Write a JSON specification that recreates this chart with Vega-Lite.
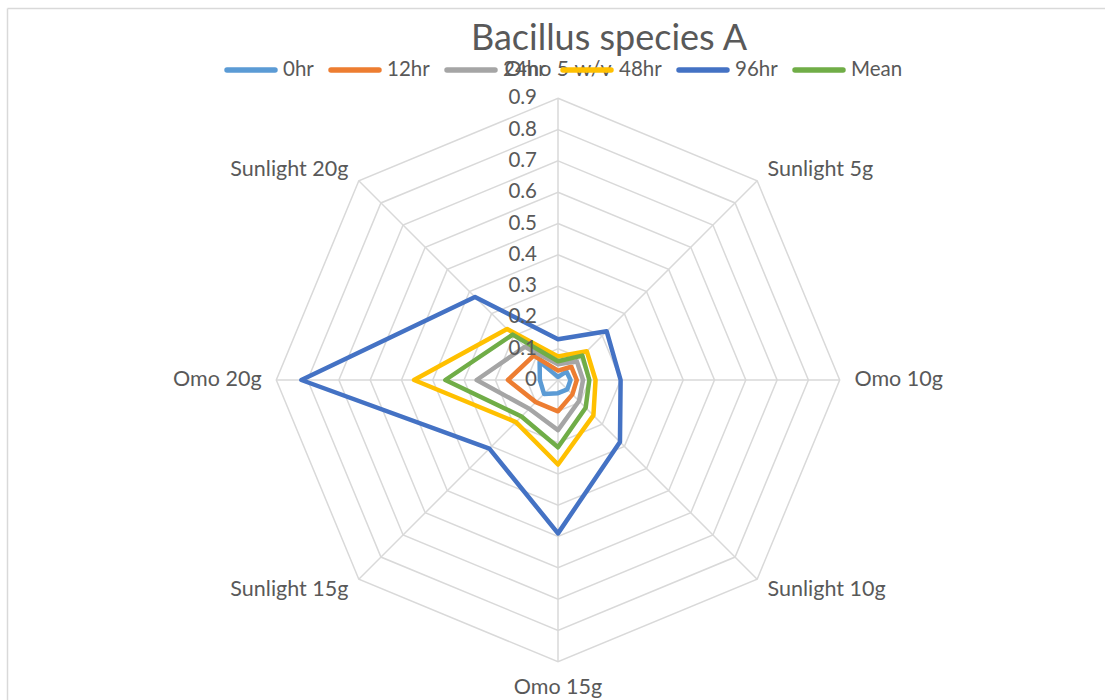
{
  "$schema": "https://vega.github.io/schema/vega-lite/v6.json",
  "width": 1098,
  "height": 692,
  "autosize": {"type": "none"},
  "padding": {"left": 7, "top": 8, "right": 0, "bottom": 0},
  "background": "white",
  "config": {"view": {"stroke": null}, "font": "Lato"},
  "title": {
    "text": "Bacillus species  A",
    "font": "Lato",
    "fontSize": 36,
    "fontWeight": "normal",
    "color": "#595959",
    "anchor": "middle",
    "frame": "group",
    "orient": "top",
    "offset": 0,
    "baseline": "alphabetic",
    "dx": 53,
    "dy": 78
  },
  "datasets": {
    "vals": [
      {"s": "0hr", "k": 0, "v": 0.01}, {"s": "0hr", "k": 1, "v": 0.038}, {"s": "0hr", "k": 2, "v": 0.04}, {"s": "0hr", "k": 3, "v": 0.042},
      {"s": "0hr", "k": 4, "v": 0.042}, {"s": "0hr", "k": 5, "v": 0.063}, {"s": "0hr", "k": 6, "v": 0.058}, {"s": "0hr", "k": 7, "v": 0.083},
      {"s": "12hr", "k": 0, "v": 0.03}, {"s": "12hr", "k": 1, "v": 0.06}, {"s": "12hr", "k": 2, "v": 0.06}, {"s": "12hr", "k": 3, "v": 0.065},
      {"s": "12hr", "k": 4, "v": 0.10}, {"s": "12hr", "k": 5, "v": 0.10}, {"s": "12hr", "k": 6, "v": 0.16}, {"s": "12hr", "k": 7, "v": 0.11},
      {"s": "24hr", "k": 0, "v": 0.05}, {"s": "24hr", "k": 1, "v": 0.085}, {"s": "24hr", "k": 2, "v": 0.08}, {"s": "24hr", "k": 3, "v": 0.095},
      {"s": "24hr", "k": 4, "v": 0.16}, {"s": "24hr", "k": 5, "v": 0.13}, {"s": "24hr", "k": 6, "v": 0.26}, {"s": "24hr", "k": 7, "v": 0.15},
      {"s": "48hr", "k": 0, "v": 0.075}, {"s": "48hr", "k": 1, "v": 0.13}, {"s": "48hr", "k": 2, "v": 0.12}, {"s": "48hr", "k": 3, "v": 0.16},
      {"s": "48hr", "k": 4, "v": 0.27}, {"s": "48hr", "k": 5, "v": 0.19}, {"s": "48hr", "k": 6, "v": 0.46}, {"s": "48hr", "k": 7, "v": 0.23},
      {"s": "96hr", "k": 0, "v": 0.13}, {"s": "96hr", "k": 1, "v": 0.22}, {"s": "96hr", "k": 2, "v": 0.20}, {"s": "96hr", "k": 3, "v": 0.28},
      {"s": "96hr", "k": 4, "v": 0.49}, {"s": "96hr", "k": 5, "v": 0.31}, {"s": "96hr", "k": 6, "v": 0.82}, {"s": "96hr", "k": 7, "v": 0.375},
      {"s": "Mean", "k": 0, "v": 0.06}, {"s": "Mean", "k": 1, "v": 0.11}, {"s": "Mean", "k": 2, "v": 0.10}, {"s": "Mean", "k": 3, "v": 0.125},
      {"s": "Mean", "k": 4, "v": 0.215}, {"s": "Mean", "k": 5, "v": 0.165}, {"s": "Mean", "k": 6, "v": 0.36}, {"s": "Mean", "k": 7, "v": 0.205}
    ],
    "axes": [
      {"k": 0, "name": "Omo 5 w/v"}, {"k": 1, "name": "Sunlight 5g"}, {"k": 2, "name": "Omo 10g"}, {"k": 3, "name": "Sunlight 10g"},
      {"k": 4, "name": "Omo 15g"}, {"k": 5, "name": "Sunlight 15g"}, {"k": 6, "name": "Omo 20g"}, {"k": 7, "name": "Sunlight 20g"}
    ],
    "rings": [
      {"k": 0, "lv": [0.1, 0.2, 0.3, 0.4, 0.5, 0.6, 0.7, 0.8, 0.9]},
      {"k": 1, "lv": [0.1, 0.2, 0.3, 0.4, 0.5, 0.6, 0.7, 0.8, 0.9]},
      {"k": 2, "lv": [0.1, 0.2, 0.3, 0.4, 0.5, 0.6, 0.7, 0.8, 0.9]},
      {"k": 3, "lv": [0.1, 0.2, 0.3, 0.4, 0.5, 0.6, 0.7, 0.8, 0.9]},
      {"k": 4, "lv": [0.1, 0.2, 0.3, 0.4, 0.5, 0.6, 0.7, 0.8, 0.9]},
      {"k": 5, "lv": [0.1, 0.2, 0.3, 0.4, 0.5, 0.6, 0.7, 0.8, 0.9]},
      {"k": 6, "lv": [0.1, 0.2, 0.3, 0.4, 0.5, 0.6, 0.7, 0.8, 0.9]},
      {"k": 7, "lv": [0.1, 0.2, 0.3, 0.4, 0.5, 0.6, 0.7, 0.8, 0.9]}
    ],
    "ticks": [
      {"lv": 0, "t": "0"}, {"lv": 0.1, "t": "0.1"}, {"lv": 0.2, "t": "0.2"}, {"lv": 0.3, "t": "0.3"}, {"lv": 0.4, "t": "0.4"},
      {"lv": 0.5, "t": "0.5"}, {"lv": 0.6, "t": "0.6"}, {"lv": 0.7, "t": "0.7"}, {"lv": 0.8, "t": "0.8"}, {"lv": 0.9, "t": "0.9"}
    ]
  },
  "encoding": {
    "x": {
      "field": "x", "type": "quantitative",
      "scale": {"domain": [-1.76038, 1.7476], "nice": false, "zero": false},
      "axis": {"orient": "top", "labels": false, "ticks": false, "grid": false, "title": null, "domainColor": "#D9D9D9", "domainWidth": 1.5}
    },
    "y": {
      "field": "y", "type": "quantitative",
      "scale": {"domain": [-1.02236, 1.1885], "nice": false, "zero": false},
      "axis": {"orient": "left", "labels": false, "ticks": false, "grid": false, "title": null, "domainColor": "#D9D9D9", "domainWidth": 1.5}
    }
  },
  "layer": [
    {
      "data": {"name": "rings"},
      "transform": [
        {"flatten": ["lv"]},
        {"calculate": "datum.lv * sin(datum.k * PI / 4)", "as": "x"},
        {"calculate": "datum.lv * cos(datum.k * PI / 4)", "as": "y"}
      ],
      "mark": {"type": "line", "interpolate": "linear-closed", "stroke": "#D9D9D9", "strokeWidth": 1.5},
      "encoding": {
        "detail": {"field": "lv", "type": "nominal"},
        "order": {"field": "k", "type": "quantitative"}
      }
    },
    {
      "data": {"name": "axes"},
      "transform": [
        {"calculate": "0", "as": "x"},
        {"calculate": "0", "as": "y"},
        {"calculate": "0.9 * sin(datum.k * PI / 4)", "as": "x2"},
        {"calculate": "0.9 * cos(datum.k * PI / 4)", "as": "y2"}
      ],
      "mark": {"type": "rule", "stroke": "#D9D9D9", "strokeWidth": 1.5},
      "encoding": {
        "x2": {"field": "x2"},
        "y2": {"field": "y2"}
      }
    },
    {
      "data": {"name": "vals"},
      "transform": [
        {"calculate": "datum.v * sin(datum.k * PI / 4)", "as": "x"},
        {"calculate": "datum.v * cos(datum.k * PI / 4)", "as": "y"}
      ],
      "mark": {"type": "line", "interpolate": "linear-closed", "strokeWidth": 4.5, "strokeJoin": "round", "strokeCap": "round"},
      "encoding": {
        "order": {"field": "k", "type": "quantitative"},
        "color": {
          "field": "s", "type": "nominal",
          "scale": {"domain": ["0hr", "12hr", "24hr", "48hr", "96hr", "Mean"], "range": ["#5B9BD5", "#ED7D31", "#A5A5A5", "#FFC000", "#4472C4", "#70AD47"]},
          "legend": {
            "orient": "none", "legendX": 217, "legendY": 35, "direction": "horizontal", "title": null,
            "symbolType": "stroke", "symbolSize": 2300, "symbolStrokeWidth": 5.5,
            "labelFont": "Lato", "labelFontSize": 20.5, "labelColor": "#595959", "labelOffset": 5,
            "columnPadding": 6, "padding": 0,
            "encode": {"symbols": {"update": {"strokeCap": {"value": "round"}}}}
          }
        }
      }
    },
    {
      "data": {"name": "ticks"},
      "transform": [
        {"calculate": "0", "as": "x"},
        {"calculate": "datum.lv", "as": "y"}
      ],
      "mark": {"type": "text", "align": "right", "baseline": "middle", "dx": -21, "font": "Lato", "fontSize": 20.5, "color": "#595959"},
      "encoding": {"text": {"field": "t"}}
    },
    {
      "data": {"name": "axes"},
      "transform": [
        {"filter": "datum.k >= 1 && datum.k <= 3"},
        {"calculate": "0.947 * sin(datum.k * PI / 4)", "as": "x"},
        {"calculate": "0.947 * cos(datum.k * PI / 4)", "as": "y"}
      ],
      "mark": {"type": "text", "align": "left", "baseline": "middle", "font": "Lato", "fontSize": 21.5, "color": "#595959"},
      "encoding": {"text": {"field": "name"}}
    },
    {
      "data": {"name": "axes"},
      "transform": [
        {"filter": "datum.k >= 5"},
        {"calculate": "0.947 * sin(datum.k * PI / 4)", "as": "x"},
        {"calculate": "0.947 * cos(datum.k * PI / 4)", "as": "y"}
      ],
      "mark": {"type": "text", "align": "right", "baseline": "middle", "font": "Lato", "fontSize": 21.5, "color": "#595959"},
      "encoding": {"text": {"field": "name"}}
    },
    {
      "data": {"name": "axes"},
      "transform": [
        {"filter": "datum.k == 0 || datum.k == 4"},
        {"calculate": "0", "as": "x"},
        {"calculate": "datum.k == 0 ? 0.99 : -0.984", "as": "y"}
      ],
      "mark": {"type": "text", "align": "center", "baseline": "middle", "font": "Lato", "fontSize": 21.5, "color": "#595959"},
      "encoding": {"text": {"field": "name"}}
    }
  ]
}
